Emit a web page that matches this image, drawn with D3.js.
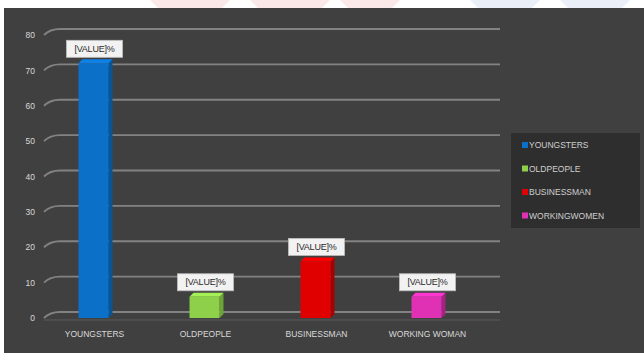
<!DOCTYPE html>
<html>
<head>
<meta charset="utf-8">
<script src="https://cdn.jsdelivr.net/npm/d3@7/dist/d3.min.js"></script>
<style>
  html, body { margin: 0; padding: 0; background: #ffffff; }
  svg { display: block; }
  text { font-family: "Liberation Sans", Arial, sans-serif; }
</style>
</head>
<body>
<svg id="chart" width="644" height="353"></svg>
<script>
// Audience segments and their share (%)
const categories = ["YOUNGSTERS", "OLDPEOPLE", "BUSINESSMAN", "WORKING WOMAN"];
const values = [72, 6, 16, 6];
const legendNames = ["YOUNGSTERS", "OLDPEOPLE", "BUSINESSMAN", "WORKINGWOMEN"];
const colors = ["#0a70c8", "#8ed04a", "#e00000", "#e030b4"];
const sideColors = ["#075598", "#6da437", "#a80000", "#a82285"];
const yTicks = [0, 10, 20, 30, 40, 50, 60, 70, 80];
const valueLabel = "[VALUE]%";

const svg = d3.select("#chart");
const W = 644, H = 353;

// chart background
svg.append("rect").attr("width", W).attr("height", H).attr("fill", "#ffffff");
svg.append("rect").attr("x", 4).attr("y", 8).attr("width", W - 4).attr("height", H - 8)
  .attr("fill", "#404040");

// faint banner shapes along the top strip
const banner = svg.append("g").attr("opacity", 0.1);
[[150, 230, "#e03030"], [250, 330, "#e03030"], [340, 400, "#e03030"], [470, 540, "#4070c0"], [560, 630, "#4070c0"]]
  .forEach(([a, b, c]) => {
    banner.append("polygon")
      .attr("points", `${a},0 ${b},0 ${b - 8},8 ${a + 8},8`)
      .attr("fill", c);
  });

const x = d3.scaleBand().domain(categories).range([38, 482]).paddingInner(0.73).paddingOuter(0.365);
const y = d3.scaleLinear().domain([0, 80]).range([318, 35]);
const depth = 6; // 3D wall offset

// gridlines on the back wall, bending into the side wall
const grid = svg.append("g");
yTicks.forEach(t => {
  const yf = y(t), yb = y(t) - depth;
  grid.append("path")
    .attr("d", `M44,${yf} Q50,${yb} 60,${yb} L500,${yb}`)
    .attr("fill", "none")
    .attr("stroke", "#828282")
    .attr("stroke-width", 1.8);
});
// floor line
svg.append("path")
  .attr("d", `M44,${y(0) + 2} L500,${y(0) + 2}`)
  .attr("stroke", "#5a5a5a").attr("stroke-width", 1);

// y axis labels
const yAxis = d3.axisLeft(y).tickValues(yTicks).tickSize(0).tickPadding(0);
const yg = svg.append("g").attr("transform", "translate(35,0)").call(yAxis);
yg.select(".domain").remove();
yg.selectAll("text").attr("fill", "#d9d9d9").attr("font-size", 8.5);

// bars with a slim side and top face
const bars = svg.append("g");
categories.forEach((c, i) => {
  const x0 = x(c), bw = x.bandwidth(), yt = y(values[i]), yb = y(0);
  const d = 4;
  bars.append("polygon")
    .attr("points", `${x0 + bw},${yt} ${x0 + bw + d},${yt - d} ${x0 + bw + d},${yb - d} ${x0 + bw},${yb}`)
    .attr("fill", sideColors[i]);
  bars.append("polygon")
    .attr("points", `${x0},${yt} ${x0 + d},${yt - d} ${x0 + bw + d},${yt - d} ${x0 + bw},${yt}`)
    .attr("fill", d3.color(colors[i]).brighter(0.4));
  bars.append("rect")
    .attr("x", x0).attr("y", yt).attr("width", bw).attr("height", yb - yt)
    .attr("fill", colors[i]);
});

// value labels
const labels = svg.append("g");
categories.forEach((c, i) => {
  const cx = x(c) + x.bandwidth() / 2 + 1, yt = y(values[i]) - 5;
  labels.append("rect")
    .attr("x", cx - 28).attr("y", yt - 18).attr("width", 56).attr("height", 17)
    .attr("fill", "#f2f2f2").attr("stroke", "#bfbfbf").attr("stroke-width", 0.8);
  labels.append("text")
    .attr("x", cx).attr("y", yt - 6.3)
    .attr("text-anchor", "middle").attr("font-size", 9).attr("fill", "#2a2a2a")
    .attr("letter-spacing", -0.2)
    .text(valueLabel);
});

// category axis
const xAxis = d3.axisBottom(x).tickSize(0).tickPadding(0);
const xg = svg.append("g").attr("transform", `translate(1,${y(0) + 13})`).call(xAxis);
xg.select(".domain").remove();
xg.selectAll("text").attr("fill", "#d9d9d9").attr("font-size", 8.5).attr("dy", "0.71em");

// legend
const lg = svg.append("g").attr("transform", "translate(511,133)");
lg.append("rect").attr("width", 129).attr("height", 95).attr("fill", "#2e2e2e");
legendNames.forEach((n, i) => {
  const row = lg.append("g").attr("transform", `translate(0,${12 + i * 23.5})`);
  row.append("rect").attr("x", 11).attr("y", -3).attr("width", 6).attr("height", 6).attr("fill", colors[i]);
  row.append("text").attr("x", 18).attr("y", 3).attr("font-size", 8.5).attr("fill", "#cfcfcf").text(n);
});
</script>
</body>
</html>
